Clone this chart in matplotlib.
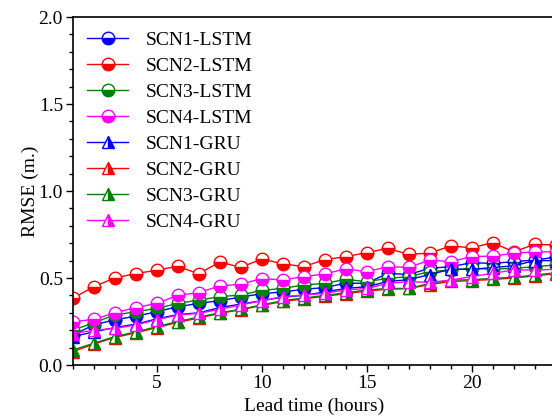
import matplotlib.pyplot as plt
from matplotlib.ticker import MultipleLocator

hours = list(range(1, 25))

scn1_lstm = [0.172, 0.23, 0.26, 0.28, 0.306, 0.335, 0.354, 0.37, 0.39, 0.41, 0.42, 0.435,
             0.445, 0.47, 0.47, 0.527, 0.52, 0.556, 0.565, 0.588, 0.584, 0.594, 0.603, 0.62]
scn2_lstm = [0.383, 0.45, 0.50, 0.525, 0.545, 0.567, 0.524, 0.592, 0.561, 0.609, 0.582, 0.565,
             0.606, 0.622, 0.646, 0.67, 0.636, 0.643, 0.684, 0.674, 0.703, 0.651, 0.693, 0.69]
scn3_lstm = [0.20, 0.243, 0.287, 0.306, 0.325, 0.354, 0.373, 0.393, 0.402, 0.429, 0.44, 0.46,
             0.469, 0.492, 0.479, 0.498, 0.508, 0.536, 0.546, 0.556, 0.55, 0.556, 0.565, 0.575]
scn4_lstm = [0.249, 0.262, 0.30, 0.33, 0.354, 0.40, 0.416, 0.454, 0.464, 0.497, 0.489, 0.508,
             0.523, 0.553, 0.536, 0.565, 0.561, 0.603, 0.594, 0.623, 0.626, 0.642, 0.651, 0.65]
scn1_gru = [0.163, 0.19, 0.215, 0.235, 0.265, 0.29, 0.30, 0.33, 0.35, 0.37, 0.39, 0.40,
            0.42, 0.44, 0.45, 0.48, 0.49, 0.52, 0.55, 0.55, 0.56, 0.57, 0.60, 0.60]
scn2_gru = [0.077, 0.12, 0.158, 0.185, 0.215, 0.245, 0.27, 0.297, 0.318, 0.342, 0.365, 0.38,
            0.395, 0.41, 0.425, 0.435, 0.44, 0.462, 0.48, 0.485, 0.492, 0.50, 0.512, 0.525]
scn3_gru = [0.086, 0.125, 0.163, 0.19, 0.22, 0.25, 0.275, 0.30, 0.32, 0.345, 0.37, 0.385,
            0.40, 0.415, 0.431, 0.44, 0.44, 0.469, 0.488, 0.49, 0.498, 0.504, 0.517, 0.53]
scn4_gru = [0.18, 0.20, 0.21, 0.23, 0.26, 0.287, 0.297, 0.32, 0.345, 0.369, 0.393, 0.402,
            0.412, 0.431, 0.44, 0.469, 0.479, 0.475, 0.488, 0.508, 0.527, 0.546, 0.546, 0.55]

series = [
    ("SCN1-LSTM", scn1_lstm, "blue", "o"),
    ("SCN2-LSTM", scn2_lstm, "red", "o"),
    ("SCN3-LSTM", scn3_lstm, "green", "o"),
    ("SCN4-LSTM", scn4_lstm, "magenta", "o"),
    ("SCN1-GRU", scn1_gru, "blue", "^"),
    ("SCN2-GRU", scn2_gru, "red", "^"),
    ("SCN3-GRU", scn3_gru, "green", "^"),
    ("SCN4-GRU", scn4_gru, "magenta", "^"),
]

plt.rcParams["font.family"] = ["Liberation Serif", "DejaVu Serif"]

fig = plt.figure(figsize=(5.52, 4.17), dpi=100)
ax = fig.add_axes([0.1317, 0.1247, 0.875, 0.8345])

for label, vals, color, marker in series:
    fill = "bottom" if marker == "o" else "right"
    ax.plot(hours, vals, color=color, linewidth=1.0, marker=marker, markersize=9,
            fillstyle=fill, markerfacecolor=color, markerfacecoloralt="white",
            markeredgecolor=color, markeredgewidth=1.0, label=label)

ax.set_xlim(1, 24)
ax.set_ylim(0, 2.0)
ax.xaxis.set_major_locator(MultipleLocator(5))
ax.xaxis.set_minor_locator(MultipleLocator(1))
ax.yaxis.set_major_locator(MultipleLocator(0.5))
ax.yaxis.set_minor_locator(MultipleLocator(0.1))
ax.yaxis.set_major_formatter(plt.FormatStrFormatter("%.1f"))
ax.tick_params(which="major", direction="out", length=5, width=1, labelsize=14, pad=2)
ax.tick_params(which="minor", direction="out", length=3, width=1)
for sp in ax.spines.values():
    sp.set_linewidth(1.2)

ax.set_xlabel("Lead time (hours)", fontsize=14, labelpad=4)
ax.set_ylabel("RMSE (m.)", fontsize=14, labelpad=0)

ax.legend(loc="upper left", frameon=False, fontsize=14, handlelength=2.1,
          labelspacing=0.43, handletextpad=0.9, borderaxespad=0.35)

fig.savefig("out.png", dpi=100)
